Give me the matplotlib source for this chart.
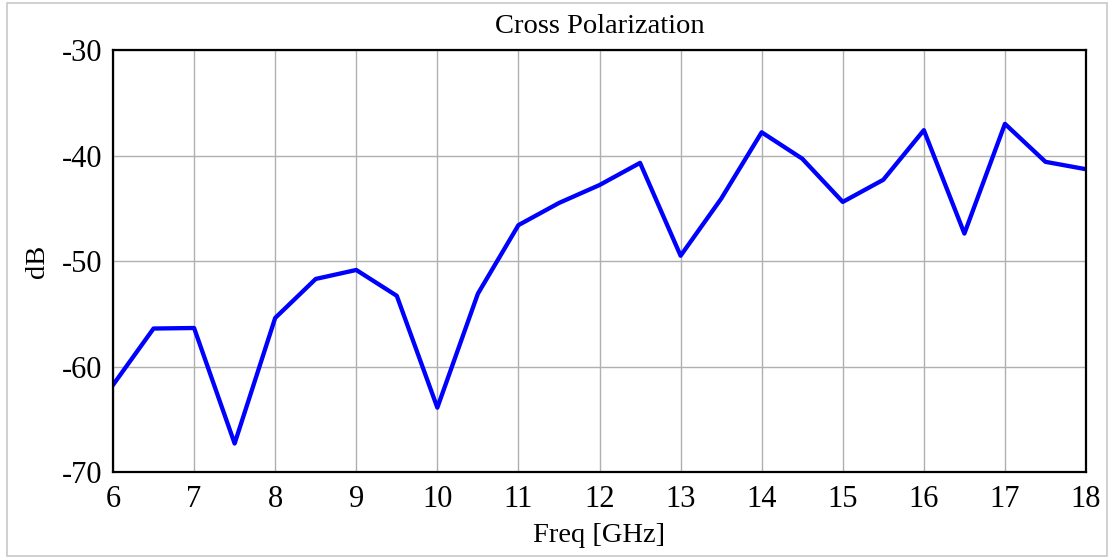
import matplotlib
matplotlib.use('Agg')
import matplotlib.pyplot as plt
from matplotlib.patches import Rectangle

freq = [6, 6.5, 7, 7.5, 8, 8.5, 9, 9.5, 10, 10.5, 11, 11.5, 12,
        12.5, 13, 13.5, 14, 14.5, 15, 15.5, 16, 16.5, 17, 17.5, 18]
xpol = [-61.75, -56.4, -56.35, -67.3, -55.4, -51.7, -50.85, -53.3, -63.9,
        -53.1, -46.6, -44.5, -42.8, -40.7, -49.5, -44.1, -37.8, -40.3,
        -44.4, -42.3, -37.6, -47.4, -37.0, -40.6, -41.3]
xticks = [6, 7, 8, 9, 10, 11, 12, 13, 14, 15, 16, 17, 18]
yticks = [-70, -60, -50, -40, -30]

plt.rcParams['font.family'] = ['Liberation Serif', 'DejaVu Serif']
plt.rcParams['axes.unicode_minus'] = False

fig = plt.figure(figsize=(11.1, 5.58), dpi=100)
ax = fig.add_axes([0.1018, 0.1541, 0.8766, 0.7563])

# light frame round the picture
fig.patches.append(Rectangle((0.006, 0.004), 0.991, 0.99, transform=fig.transFigure,
                             fill=False, edgecolor='#c8c8c8', linewidth=1.2))

ax.plot(freq, xpol, color='#0000ff', linewidth=3.1)
ax.set_xlim(6, 18)
ax.set_ylim(-70, -30)
ax.set_xticks(xticks)
ax.set_yticks(yticks)
ax.grid(True, color='#b0b0b0', linewidth=1)
ax.tick_params(length=0, labelsize=22)
ax.tick_params(axis='x', pad=9)
ax.tick_params(axis='y', pad=8)
for s in ax.spines.values():
    s.set_linewidth(1.6)
    s.set_color('black')

ax.set_title('Cross Polarization', fontsize=20.5, pad=12)
ax.set_xlabel('Freq [GHz]', fontsize=20.5, labelpad=7)
ax.set_ylabel('dB', fontsize=20.5, labelpad=8)

fig.savefig('out.png', dpi=100)
